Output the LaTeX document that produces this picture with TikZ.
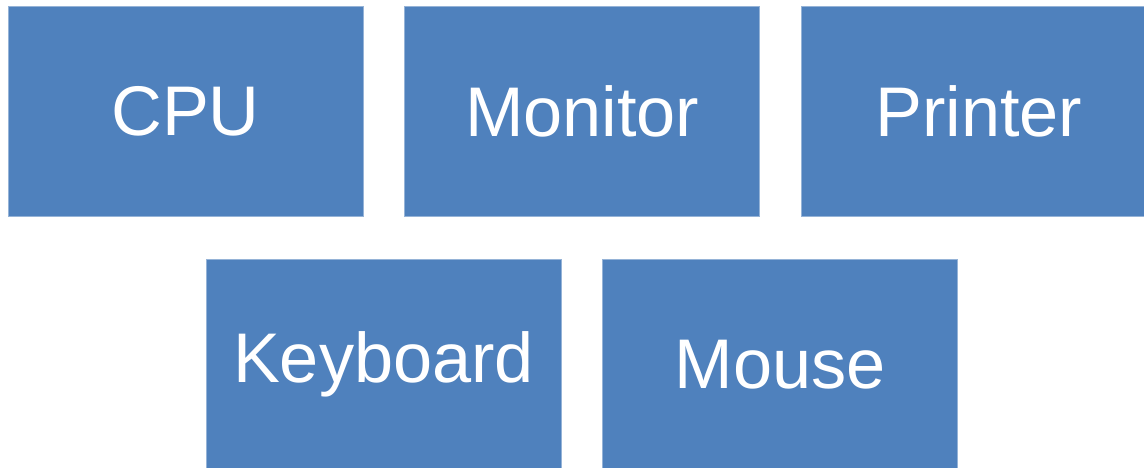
\documentclass[tikz,border=0pt]{standalone}
\usepackage{fontspec}
\setmainfont{Liberation Sans}
\usetikzlibrary{positioning}
\definecolor{boxblue}{RGB}{79,129,189}

\begin{document}
\begin{tikzpicture}[main/.style = {fill=boxblue, draw=boxblue!60!white, line width=0.4pt, text=white,
			minimum width=7.1cm, minimum height=4.2cm, font=\fontsize{40}{48}\selectfont},
		node distance=0.82cm]
			\useasboundingbox (0,0) rectangle (22.88,-9.34);
			\clip (0,0) rectangle (22.88,-9.34);
			% top row
			\node[main] (cpu) at (3.71,-2.22) {CPU};
			\node[main, right=of cpu] (monitor) {Monitor};
			\node[main, right=of monitor] (printer) {Printer};
			% bottom row
			\node[main, below=0.86cm of cpu, xshift=3.96cm] (keyboard) {Keyboard};
			\node[main, right=of keyboard] (mouse) {Mouse};
\end{tikzpicture}
\end{document}
